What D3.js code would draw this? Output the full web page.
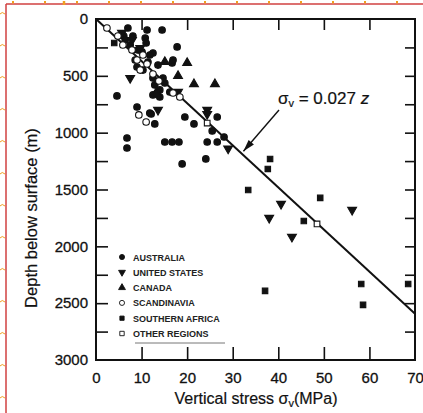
<!DOCTYPE html>
<html>
<head>
<meta charset="utf-8">
<script src="https://cdn.jsdelivr.net/npm/d3@7"></script>
<style>
  body { margin: 0; background: #fff; }
  svg { display: block; font-family: "Liberation Sans", Arial, sans-serif; }
</style>
</head>
<body>
<div id="chart"></div>
<script>
let w = 423;
let h = 413;

// [vertical stress MPa, depth m]
let australia = [
  [7.0, 79], [11.2, 97], [14.5, 97], [10.8, 167], [11.0, 211], [6.1, 150], [8.1, 150],
  [17.8, 246], [12.5, 299], [4.6, 677], [9.0, 774], [12.1, 836], [12.9, 923],
  [6.8, 1047], [6.8, 1135], [15.1, 1082], [16.7, 1082], [18.2, 1082], [18.9, 1275],
  [19.5, 862], [21.5, 923], [24.4, 1082], [24.1, 1231], [26.6, 862], [25.5, 985],
  [26.6, 1082], [28.1, 1038], [16.7, 387], [16.9, 361], [10.1, 290],
  [11.8, 317], [12.9, 580], [15.1, 563], [14.0, 624], [16.2, 642], [12.5, 668],
  [13.4, 651], [11.8, 827], [9.0, 422], [10.3, 449], [7.5, 229], [9.2, 273],
  [6.4, 185], [8.6, 361], [11.4, 378], [13.6, 405], [12.5, 519], [14.7, 519], [14.0, 686]
];
let unitedStates = [
  [5.7, 123], [7.5, 519], [13.6, 800], [24.4, 800], [24.4, 836], [29.0, 1140],
  [40.6, 1627], [38.0, 1750], [43.0, 1917], [56.2, 1680], [18.0, 642], [9.7, 255], [7.9, 185]
];
let canada = [
  [15.1, 378], [20.0, 387], [18.0, 501], [21.5, 572], [26.1, 572], [13.2, 651]
];
let scandinavia = [
  [2.4, 79], [5.9, 229], [7.9, 273], [10.3, 317], [9.7, 449], [12.5, 484], [13.8, 545],
  [16.9, 651], [18.4, 686], [9.4, 844], [11.0, 906], [4.8, 150], [9.0, 361], [11.2, 396]
];
let southernAfrica = [
  [4.0, 211], [38.2, 1231], [37.7, 1319], [33.4, 1504], [49.2, 1574], [45.6, 1777],
  [37.1, 2392], [58.2, 2331], [58.6, 2515], [68.5, 2331]
];
let otherRegions = [
  [24.4, 915], [48.5, 1803]
];

let legendNames = ["AUSTRALIA", "UNITED STATES", "CANADA", "SCANDINAVIA", "SOUTHERN AFRICA", "OTHER REGIONS"];
let xTicks = [0, 10, 20, 30, 40, 50, 60, 70];
let yTicks = [0, 500, 1000, 1500, 2000, 2500, 3000];
let gradient = 0.027; // MPa per metre

let viz = d3.select("#chart")
  .append("svg")
    .attr("width", w)
    .attr("height", h);

///////////////////////////////////////////////////////////////////////
// page rulers round the scan
viz.append("line").attr("x1", 6).attr("y1", 4).attr("x2", w).attr("y2", 4)
  .attr("stroke", "#d04040").attr("stroke-width", 1.5);
viz.append("line").attr("x1", 6).attr("y1", 4).attr("x2", 6).attr("y2", h)
  .attr("stroke", "#d04040").attr("stroke-width", 1.5);
let marks = d3.range(13, h, 32);
viz.selectAll(".topmark").data(marks.concat([64])).enter()
  .append("line")
    .attr("x1", d => d).attr("x2", d => d)
    .attr("y1", 1).attr("y2", d => d == 64 ? 5 : 3.5)
    .attr("stroke", "#f0a020").attr("stroke-width", d => d == 64 ? 2.5 : 2);
viz.selectAll(".leftmark").data(marks).enter()
  .append("path")
    .attr("d", d => "M0," + (d + 1) + " Q2," + (d - 2) + " 5," + (d + 1))
    .attr("fill", "none")
    .attr("stroke", "#f0a020").attr("stroke-width", 1);

///////////////////////////////////////////////////////////////////////
// scales
let plotLeft = 96, plotRight = 415, plotTop = 19, plotBottom = 360;
let x = d3.scaleLinear().domain([0, 70]).range([plotLeft, plotRight]);
let y = d3.scaleLinear().domain([0, 3000]).range([plotTop, plotBottom]);

///////////////////////////////////////////////////////////////////////
// axes, ticks point inwards
let bottomAxis = d3.axisBottom(x).tickValues(xTicks).tickSize(-13).tickSizeOuter(0).tickPadding(20);
let gx = viz.append("g").attr("transform", "translate(0," + plotBottom + ")").call(bottomAxis);
gx.selectAll(".tick line").filter(d => d == 0 || d == 70).remove();
gx.selectAll(".tick text").attr("font-size", 15).attr("fill", "#111").attr("dy", "0.2em")
  .attr("stroke", "#111").attr("stroke-width", 0.3);

let topAxis = d3.axisTop(x).tickValues(d3.range(10, 70, 10)).tickSize(-11).tickSizeOuter(0).tickFormat("");
viz.append("g").attr("transform", "translate(0," + plotTop + ")").call(topAxis);

let leftAxis = d3.axisLeft(y).tickValues(d3.range(0, 3001, 250)).tickSize(-12).tickSizeOuter(0)
  .tickPadding(20).tickFormat(d => yTicks.includes(d) ? d : "");
let gy = viz.append("g").attr("transform", "translate(" + plotLeft + ",0)").call(leftAxis);
gy.selectAll(".tick line").filter(d => d == 0 || d == 3000).remove();
gy.selectAll(".tick text").attr("font-size", 15).attr("fill", "#111").attr("x", -8)
  .attr("stroke", "#111").attr("stroke-width", 0.3);

let rightAxis = d3.axisRight(y).tickValues(d3.range(250, 3000, 250)).tickSize(-10).tickSizeOuter(0).tickFormat("");
viz.append("g").attr("transform", "translate(" + plotRight + ",0)").call(rightAxis);

viz.selectAll(".domain").remove();
viz.selectAll(".tick line").attr("stroke", "#111").attr("stroke-width", 1.6);

// frame
viz.append("rect")
  .attr("x", plotLeft).attr("y", plotTop)
  .attr("width", plotRight - plotLeft).attr("height", plotBottom - plotTop)
  .attr("fill", "none").attr("stroke", "#111").attr("stroke-width", 2);

///////////////////////////////////////////////////////////////////////
// axis titles
viz.append("text")
  .attr("transform", "translate(37," + 218 + ") rotate(-90)")
  .attr("text-anchor", "middle")
  .attr("font-size", 16.5)
  .attr("fill", "#111")
  .attr("stroke", "#111").attr("stroke-width", 0.2)
  .text("Depth below surface (m)");

let xt = viz.append("text")
  .attr("x", 256).attr("y", 404)
  .attr("text-anchor", "middle")
  .attr("font-size", 16)
  .attr("fill", "#111")
  .attr("stroke", "#111").attr("stroke-width", 0.2);
xt.append("tspan").text("Vertical stress σ");
xt.append("tspan").attr("font-size", 11).attr("dy", 3).text("v");
xt.append("tspan").attr("dy", -3).text("(MPa)");

///////////////////////////////////////////////////////////////////////
// lithostatic line  sigma = 0.027 z
let zEnd = 70 / gradient;
viz.append("line")
  .attr("x1", x(0)).attr("y1", y(0))
  .attr("x2", x(gradient * zEnd)).attr("y2", y(zEnd))
  .attr("stroke", "#111").attr("stroke-width", 2);

// annotation with arrow
let tipZ = 1190;
let tip = [x(gradient * tipZ) + 1, y(tipZ) - 3];
let tail = [279, 110];
viz.append("line")
  .attr("x1", tail[0]).attr("y1", tail[1]).attr("x2", tip[0]).attr("y2", tip[1])
  .attr("stroke", "#111").attr("stroke-width", 1.4);
let ang = Math.atan2(tip[1] - tail[1], tip[0] - tail[0]);
let hl = 12, hw = 3.5;
let bx = tip[0] - hl * Math.cos(ang), by = tip[1] - hl * Math.sin(ang);
viz.append("path")
  .attr("d", "M" + tip[0] + "," + tip[1] +
    " L" + (bx + hw * Math.sin(ang)) + "," + (by - hw * Math.cos(ang)) +
    " L" + (bx - hw * Math.sin(ang)) + "," + (by + hw * Math.cos(ang)) + " Z")
  .attr("fill", "#111");

let eq = viz.append("text")
  .attr("x", 278).attr("y", 104)
  .attr("font-size", 17)
  .attr("fill", "#111")
  .attr("stroke", "#111").attr("stroke-width", 0.2);
eq.append("tspan").text("σ");
eq.append("tspan").attr("font-size", 11).attr("dy", 3).text("v");
eq.append("tspan").attr("dy", -3).text(" = 0.027 ");
eq.append("tspan").attr("font-style", "italic").text("z");

///////////////////////////////////////////////////////////////////////
// markers
let symbols = [
  { type: d3.symbolCircle, size: 34, fill: "#111", rot: 0 },
  { type: d3.symbolTriangle, size: 34, fill: "#111", rot: 180 },
  { type: d3.symbolTriangle, size: 34, fill: "#111", rot: 0 },
  { type: d3.symbolCircle, size: 34, fill: "#fff", rot: 0 },
  { type: d3.symbolSquare, size: 30, fill: "#111", rot: 0 },
  { type: d3.symbolSquare, size: 32, fill: "#fff", rot: 0 }
];
let groups = [australia, unitedStates, canada, scandinavia, southernAfrica, otherRegions];

function drawGroup(data, i) {
  let s = symbols[i];
  viz.append("g").selectAll("path").data(data).enter()
    .append("path")
      .attr("d", d3.symbol().type(s.type).size(s.size))
      .attr("transform", d => "translate(" + x(d[0]) + "," + y(d[1]) + ") rotate(" + s.rot + ")")
      .attr("fill", s.fill)
      .attr("stroke", "#111")
      .attr("stroke-width", 1.1);
}
groups.forEach(drawGroup);

///////////////////////////////////////////////////////////////////////
// legend
let legend = viz.append("g").attr("transform", "translate(122,257)");
let rows = legend.selectAll("g").data(legendNames).enter()
  .append("g")
    .attr("transform", (d, i) => "translate(0," + (i * 15.3) + ")");
rows.append("path")
  .attr("d", (d, i) => d3.symbol().type(symbols[i].type).size(symbols[i].size * 0.6)())
  .attr("transform", (d, i) => "rotate(" + symbols[i].rot + ")")
  .attr("fill", (d, i) => symbols[i].fill)
  .attr("stroke", "#111")
  .attr("stroke-width", 0.9);
rows.append("text")
  .attr("x", 11).attr("y", 3.5)
  .attr("font-size", 9)
  .attr("font-weight", "bold")
  .attr("fill", "#222")
  .text(d => d);
legend.append("line")
  .attr("x1", 13).attr("x2", 103).attr("y1", 86).attr("y2", 86)
  .attr("stroke", "#777").attr("stroke-width", 1);
</script>
</body>
</html>
